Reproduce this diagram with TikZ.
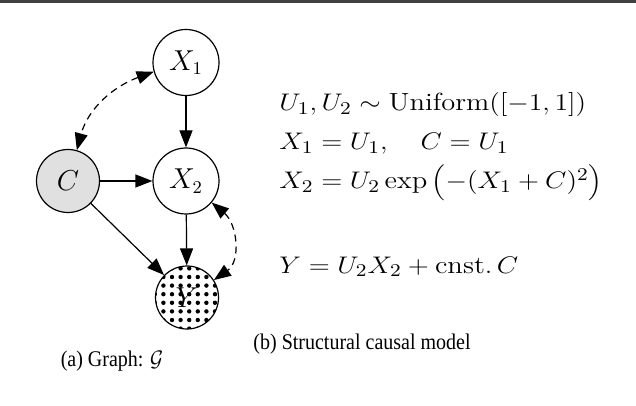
\documentclass[tikz,border=0pt]{standalone}
\usepackage{fontspec}
\usetikzlibrary{arrows.meta,patterns.meta}
\newfontfamily\capfont{Liberation Serif}
\newcommand{\eqbox}[1]{\scalebox{1.15}[1]{#1}}
\newcommand{\capbox}[1]{\scalebox{1}[1.12]{#1}}
\begin{document}
\begin{tikzpicture}[x=0.5pt,y=-0.5pt,
  var/.style={circle,draw,line width=0.6pt,minimum size=33pt,inner sep=0pt,font=\fontsize{13.5}{16}\selectfont},
  edge/.style={line width=0.6pt,-{Triangle[length=8.5pt,width=6.5pt]}},
  biedge/.style={line width=0.6pt,dash pattern=on 3.5pt off 2.5pt,{Triangle[length=8.5pt,width=6.5pt]}-{Triangle[length=8.5pt,width=6.5pt]}},
  eq/.style={anchor=base west,inner sep=0pt,font=\fontsize{12.4}{15}\selectfont},
  captext/.style={anchor=base,inner sep=0pt,font=\capfont\fontsize{10}{12}\selectfont}]
\useasboundingbox (0,0) rectangle (636,406);
\fill[black!75] (0,0) rectangle (636,3.5);
\node[var] (X1) at (186,62.5) {$X_1$};
\node[var] (X2) at (186,181) {$X_2$};
\node[var,fill=black!12,minimum size=31.5pt] (C) at (68,181) {$C$};
\node[var,minimum size=31.5pt,pattern={Dots[distance=4.3pt,radius=1.1pt]}] (Y) at (187,297.5) {$Y$};
\draw[edge] (X1) -- (X2);
\draw[edge] (C) -- (X2);
\draw[edge] (X2) -- (Y);
\draw[edge] (C) -- (Y);
\draw[biedge] (X1.196) to[out=200,in=75] (C.74);
\draw[biedge] (X2.-40) to[out=-40,in=35,looseness=1.1] (Y.33);
\node[eq] (e1) at (279,110.5) {\eqbox{$U_1, U_2 \sim \mathrm{Uniform}([-1,1])$}};
\node[eq] (e2) at (279,150) {\eqbox{$X_1 = U_1, \quad C = U_1$}};
\node[eq] (e3) at (279,189) {\eqbox{$X_2 = U_2 \exp\left(-(X_1+C)^2\right)$}};
\node[eq] (e4) at (279,273) {\eqbox{$Y = U_2 X_2 + \mathrm{cnst.}\, C$}};
\node[captext] (ca) at (112,366) {\capbox{(a) Graph: $\mathcal{G}$}};
\node[captext] (cb) at (362,349) {\capbox{(b) Structural causal model}};
\end{tikzpicture}
\end{document}
